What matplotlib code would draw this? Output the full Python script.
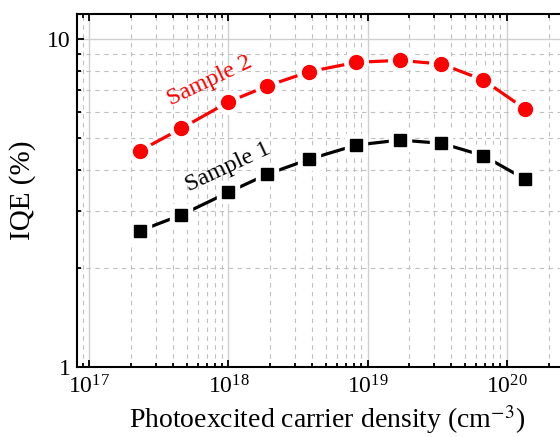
import numpy as np
import matplotlib
matplotlib.use('Agg')
import matplotlib.pyplot as plt
from matplotlib.ticker import LogLocator, FixedLocator, FixedFormatter, NullFormatter

plt.rcParams['font.family'] = 'Liberation Serif'
plt.rcParams['mathtext.fontset'] = 'stix'

# carrier density (cm^-3)
density = [2.3e17, 4.6e17, 1.0e18, 1.9e18, 3.8e18, 8.3e18, 1.7e19, 3.4e19, 6.8e19, 1.35e20]
# IQE (%)
iqe_sample1 = [2.60, 2.91, 3.41, 3.87, 4.30, 4.75, 4.92, 4.81, 4.41, 3.74]
iqe_sample2 = [4.56, 5.34, 6.43, 7.19, 7.95, 8.49, 8.61, 8.39, 7.50, 6.13]

fig = plt.figure(figsize=(5.6, 4.37), dpi=100)
ax = fig.add_axes([0.138, 0.160, 0.891, 0.808])
ax.set_xscale('log')
ax.set_yscale('log')

def draw(y, color, marker, ms):
    # line, then a white halo so the line stops short of the marker
    ax.plot(density, y, '-', color=color, lw=2.3, zorder=3)
    ax.plot(density, y, marker, color='white', ms=ms + 7, ls='none', zorder=4)
    ax.plot(density, y, marker, color=color, ms=ms, ls='none', zorder=5)

draw(iqe_sample2, '#ff0000', 'o', 10)
draw(iqe_sample1, 'black', 's', 9)

ax.set_xlim(10**16.914, 10**20.5)
ax.set_ylim(1, 11.92)

ax.xaxis.set_major_locator(LogLocator(base=10, numticks=10))
ax.xaxis.set_minor_locator(LogLocator(base=10, subs=np.arange(2, 10), numticks=20))
ax.xaxis.set_minor_formatter(NullFormatter())
ax.yaxis.set_major_locator(FixedLocator([1, 10]))
ax.yaxis.set_major_formatter(FixedFormatter(['1', '10']))
ax.yaxis.set_minor_locator(FixedLocator([2, 3, 4, 5, 6, 7, 8, 9]))
ax.yaxis.set_minor_formatter(NullFormatter())

ax.tick_params(which='both', direction='in', top=True, right=False, labelsize=17, width=1.3)
ax.tick_params(which='major', length=5)
ax.tick_params(which='minor', length=3)
ax.tick_params(axis='x', pad=6)
ax.tick_params(axis='y', pad=5)

ax.grid(which='major', color='#d0d0d0', lw=1, ls='-')
ax.grid(which='minor', color='#c0c0c0', lw=0.8, ls=(0, (4, 4)))
ax.set_axisbelow(True)

for s in ['left', 'bottom', 'top']:
    ax.spines[s].set_linewidth(1.5)
ax.spines['right'].set_visible(False)

ax.set_xlabel('Photoexcited carrier density (cm$^{-3}$)', fontsize=20, labelpad=3)
ax.set_ylabel('IQE (%)', fontsize=21, labelpad=8)

ax.text(7.4e17, 7.45, 'Sample 2', color='#ff0000', fontsize=17.5, rotation=25.5,
        ha='center', va='center')
ax.text(9.9e17, 4.07, 'Sample 1', color='black', fontsize=17.5, rotation=25,
        ha='center', va='center')

fig.savefig('out.png', dpi=100)
